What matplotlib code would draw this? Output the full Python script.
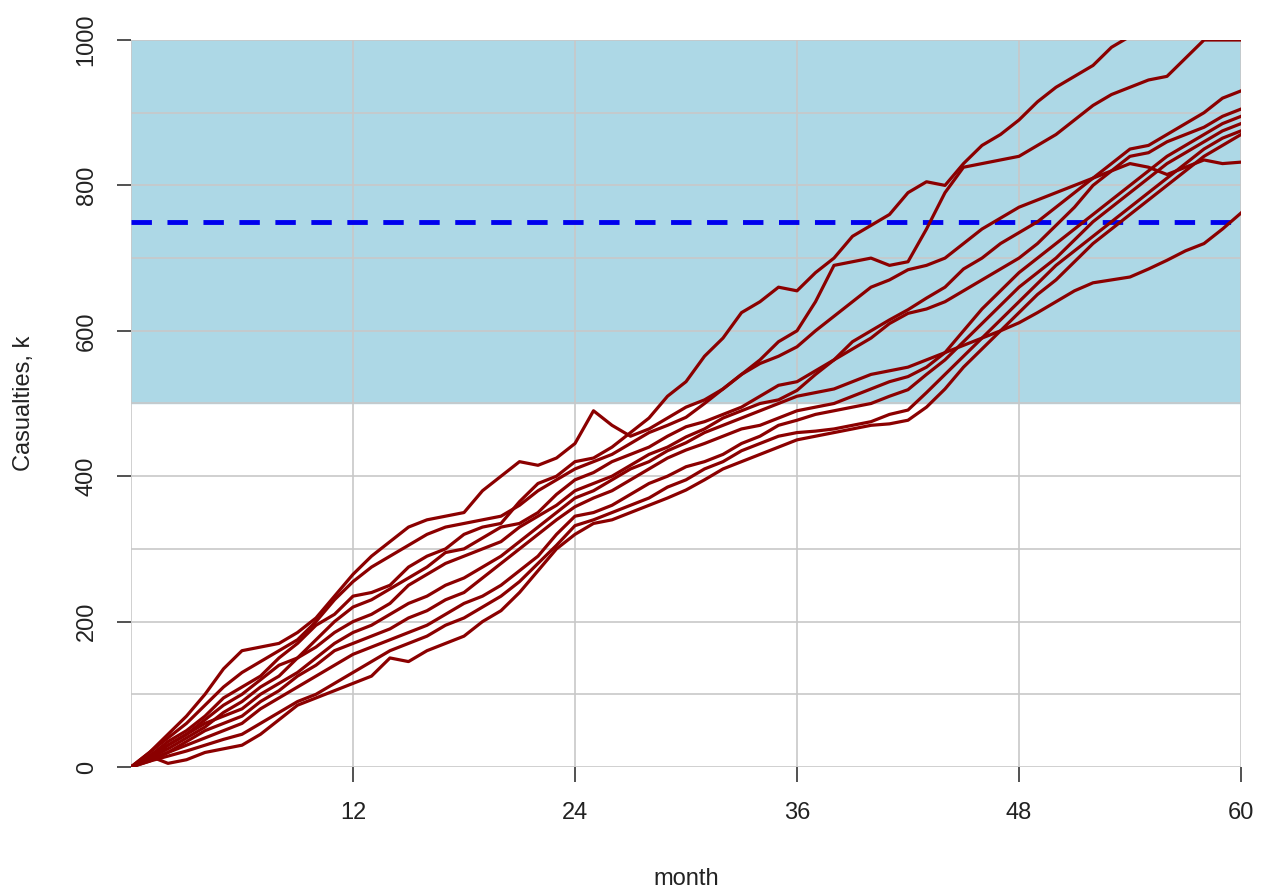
import matplotlib
matplotlib.use("Agg")
import matplotlib.pyplot as plt

plt.rcParams['font.family'] = ['Liberation Sans', 'DejaVu Sans']

# monthly cumulative casualties (thousands), one list per simulated path
months = list(range(0, 61))
path_1 = [0, 15, 35, 50, 70, 95, 110, 125, 150, 170,
          195, 210, 235, 240, 250, 275, 290, 300, 320, 330,
          335, 365, 390, 400, 420, 425, 440, 460, 480, 510,
          530, 565, 590, 625, 640, 660, 655, 680, 700, 730,
          745, 760, 790, 805, 800, 830, 855, 870, 890, 915,
          935, 950, 965, 990, 1005, 1020, 1040, 1055, 1070, 1090, 1100]
path_2 = [0, 20, 45, 70, 100, 135, 160, 165, 170, 185,
          205, 235, 265, 290, 310, 330, 340, 345, 350, 380,
          400, 420, 415, 425, 445, 490, 470, 455, 465, 480,
          495, 505, 520, 540, 560, 585, 600, 640, 690, 695,
          700, 690, 695, 740, 790, 825, 830, 835, 840, 855,
          870, 890, 910, 925, 935, 945, 950, 975, 1000, 1000, 1000]
path_3 = [0, 10, 30, 45, 65, 85, 100, 120, 140, 150,
          175, 200, 220, 230, 245, 260, 275, 295, 300, 315,
          330, 335, 350, 375, 395, 405, 420, 430, 440, 455,
          468, 475, 485, 495, 510, 525, 530, 545, 560, 585,
          600, 615, 629, 645, 660, 685, 700, 720, 735, 750,
          770, 790, 810, 830, 850, 855, 870, 885, 900, 920, 930]
path_4 = [0, 12, 25, 40, 55, 75, 90, 110, 125, 150,
          165, 185, 200, 210, 225, 250, 265, 280, 290, 300,
          310, 330, 345, 360, 380, 390, 400, 415, 430, 440,
          454, 465, 480, 490, 500, 505, 518, 540, 560, 575,
          590, 610, 624, 630, 640, 655, 670, 685, 700, 720,
          745, 770, 800, 820, 840, 845, 860, 870, 880, 895, 905]
path_5 = [0, 8, 20, 35, 50, 60, 70, 90, 105, 125,
          140, 160, 170, 180, 190, 205, 215, 230, 240, 260,
          280, 300, 320, 340, 358, 370, 380, 395, 410, 425,
          436, 445, 455, 465, 470, 480, 490, 495, 500, 510,
          520, 530, 537, 550, 570, 600, 630, 655, 680, 700,
          720, 740, 760, 780, 800, 820, 840, 855, 870, 885, 895]
path_6 = [0, 10, 20, 30, 40, 50, 60, 80, 95, 110,
          125, 140, 155, 165, 175, 185, 195, 210, 225, 235,
          250, 270, 290, 320, 345, 350, 360, 375, 390, 400,
          413, 420, 430, 445, 455, 470, 477, 485, 490, 495,
          500, 510, 519, 540, 560, 585, 610, 635, 660, 680,
          700, 725, 750, 770, 790, 810, 830, 845, 860, 875, 885]
path_7 = [0, 8, 15, 22, 30, 38, 45, 60, 75, 90,
          100, 115, 130, 145, 160, 170, 180, 195, 205, 220,
          235, 255, 280, 305, 332, 340, 350, 360, 370, 385,
          395, 410, 420, 435, 445, 455, 460, 462, 465, 470,
          475, 485, 491, 515, 540, 565, 590, 615, 640, 665,
          690, 710, 730, 750, 770, 790, 810, 830, 850, 865, 875]
path_8 = [0, 15, 5, 10, 20, 25, 30, 45, 65, 85,
          95, 105, 115, 125, 150, 145, 160, 170, 180, 200,
          215, 240, 270, 300, 320, 335, 340, 350, 360, 370,
          381, 395, 410, 420, 430, 440, 450, 455, 460, 465,
          470, 472, 477, 495, 520, 550, 575, 600, 625, 650,
          670, 695, 720, 740, 760, 780, 800, 820, 840, 855, 870]
path_9 = [0, 20, 40, 60, 85, 110, 130, 145, 160, 175,
          200, 230, 255, 275, 290, 305, 320, 330, 335, 340,
          345, 360, 380, 395, 410, 420, 430, 445, 460, 470,
          481, 500, 520, 540, 555, 565, 578, 600, 620, 640,
          660, 670, 684, 690, 700, 720, 740, 755, 770, 780,
          790, 800, 810, 820, 830, 825, 815, 825, 835, 830, 832]
path_10 = [0, 15, 30, 45, 60, 70, 80, 100, 115, 130,
           150, 170, 185, 195, 210, 225, 235, 250, 260, 275,
           290, 310, 330, 350, 370, 380, 395, 410, 420, 435,
           446, 460, 470, 480, 490, 500, 510, 515, 520, 530,
           540, 545, 550, 560, 570, 580, 590, 600, 611, 625,
           640, 655, 666, 670, 674, 685, 697, 710, 720, 740, 762]
paths = [path_1, path_2, path_3, path_4, path_5, path_6, path_7, path_8, path_9, path_10]

band_low, band_high = 500, 1000
threshold = 750
x_ticks = [12, 24, 36, 48, 60]
y_ticks = [0, 200, 400, 600, 800, 1000]

fig = plt.figure(figsize=(12.66, 8.88), dpi=100)
ax = fig.add_axes([131 / 1266, 121 / 888, 1110 / 1266, 727 / 888])

ax.axhspan(band_low, band_high, color='#ADD8E6', zorder=0)
for v in range(0, 1001, 100):
    ax.axhline(v, color='#c8c8c8', lw=1.2, zorder=1)
for m in range(0, 61, 12):
    ax.axvline(m, color='#c8c8c8', lw=1.2, zorder=1)

ax.axhline(threshold, color='#0000ee', lw=3.5, dashes=(4.2, 3.2), zorder=2)
for p in paths:
    ax.plot(months, p, color='#8B0000', lw=2.3, zorder=3)

ax.set_xlim(0, 60)
ax.set_ylim(0, 1000)
for s in ax.spines.values():
    s.set_visible(False)

ax.set_xticks(x_ticks)
ax.set_yticks(y_ticks)
ax.set_yticklabels([str(v) for v in y_ticks], rotation=90, va='center')
ax.tick_params(axis='x', length=11, width=1.2, pad=14, labelsize=17,
               color='#333333', labelcolor='#222222')
ax.tick_params(axis='y', length=10, width=1.2, pad=14, labelsize=17,
               color='#333333', labelcolor='#222222')

fig.text(686 / 1266, 1 - 885 / 888, 'month', ha='center', va='baseline',
         fontsize=17, color='#222222')
fig.text(24 / 1266, 1 - 403 / 888, 'Casualties, k', ha='center', va='center',
         rotation=90, fontsize=17, color='#222222')

fig.savefig('out.png', dpi=100, facecolor='white')
